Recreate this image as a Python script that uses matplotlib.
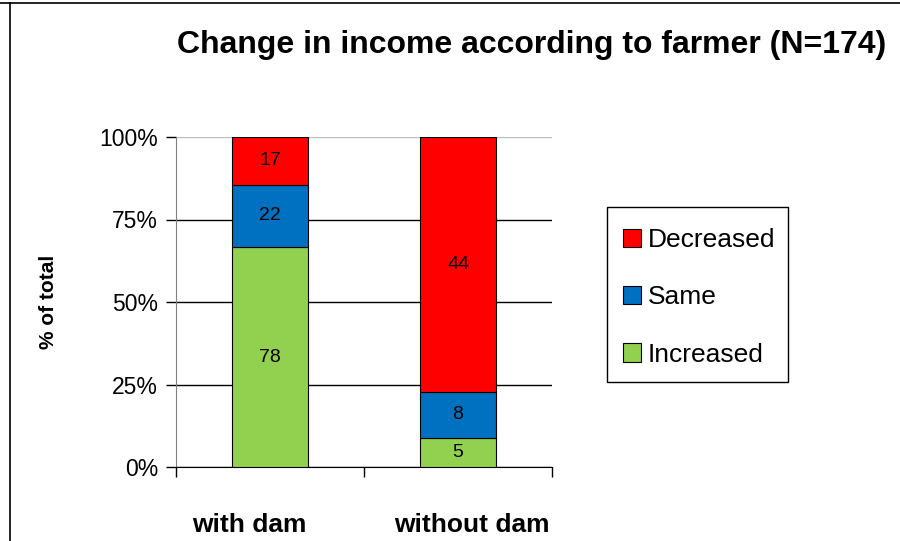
import numpy as np
import matplotlib.pyplot as plt
from matplotlib.lines import Line2D
from matplotlib.patches import Rectangle
from matplotlib.transforms import ScaledTranslation

plt.rcParams['font.family'] = ['Liberation Sans', 'DejaVu Sans']

# datos
grupos = ['with dam', 'without dam']
increased = np.array([78, 5])
same = np.array([22, 8])
decreased = np.array([17, 44])
total = increased + same + decreased

series = [('Increased', increased, '#92D050'),
          ('Same', same, '#0070C0'),
          ('Decreased', decreased, '#FF0000')]

fig = plt.figure(figsize=(9, 5.41), dpi=100)
ax = fig.add_axes([176/900, 1-467/541, 376/900, 330/541])

x = np.arange(len(grupos))
base = np.zeros(len(grupos))
handles = {}
for nombre, vals, col in series:
    frac = vals / total
    b = ax.bar(x, frac, 0.405, bottom=base, color=col, edgecolor='black',
               linewidth=0.8, zorder=3, label=nombre)
    handles[nombre] = b
    for xi, yi, fi, v in zip(x, base, frac, vals):
        ax.text(xi, yi + fi/2, str(v), ha='center', va='center', fontsize=14, zorder=4)
    base = base + frac

ax.set_xlim(-0.5, 1.5)
ax.set_ylim(0, 1)
ax.set_yticks([0, 0.25, 0.5, 0.75, 1.0])
ax.set_yticklabels(['0%', '25%', '50%', '75%', '100%'], fontsize=16.5)
ax.tick_params(axis='y', direction='out', length=7, width=1, color='black', pad=6)

ax.set_xticks(x)
ax.set_xticklabels(grupos, fontsize=19, fontweight='bold')
ax.tick_params(axis='x', which='major', length=0, pad=33)
ax.set_xticks([-0.5, 0.5, 1.5], minor=True)
ax.tick_params(axis='x', which='minor', direction='out', length=7, width=1, color='black')
# las etiquetas no quedan centradas bajo las barras en el original
for lab, dx in zip(ax.get_xticklabels(), [-21, 14]):
    lab.set_transform(lab.get_transform() + ScaledTranslation(dx/100, 0, fig.dpi_scale_trans))

ax.grid(axis='y', color='black', linewidth=1, zorder=0)
ax.set_axisbelow(True)
ax.get_ygridlines()[-1].set_color('#C0C0C0')

for s in ['top', 'right']:
    ax.spines[s].set_visible(False)
ax.spines['left'].set_color('#808080')
ax.spines['bottom'].set_color('black')

ax.set_ylabel('% of total', fontsize=15, fontweight='bold', labelpad=30)

leg = ax.legend([handles['Decreased'], handles['Same'], handles['Increased']],
                ['Decreased', 'Same', 'Increased'],
                loc='upper left', bbox_to_anchor=(623/900, 1-228/541),
                bbox_transform=fig.transFigure, fontsize=19, frameon=False,
                labelspacing=1.26, handlelength=0.7, handleheight=0.7,
                handletextpad=0.25, borderpad=0, borderaxespad=0)
# caja de la leyenda
fig.add_artist(Rectangle((607/900, 1-382/541), 181/900, 175/541, transform=fig.transFigure,
                         fill=False, edgecolor='black', linewidth=1))

fig.text(532/900, 1-45/541, 'Change in income according to farmer (N=174)',
         ha='center', va='center', fontsize=23, fontweight='bold')

# borde de la figura
fig.add_artist(Line2D([0, 1], [1-3/541, 1-3/541], color='black', linewidth=1.2))
fig.add_artist(Line2D([10/900, 10/900], [0, 1-3/541], color='black', linewidth=1.2))

fig.savefig('out.png', dpi=100)
